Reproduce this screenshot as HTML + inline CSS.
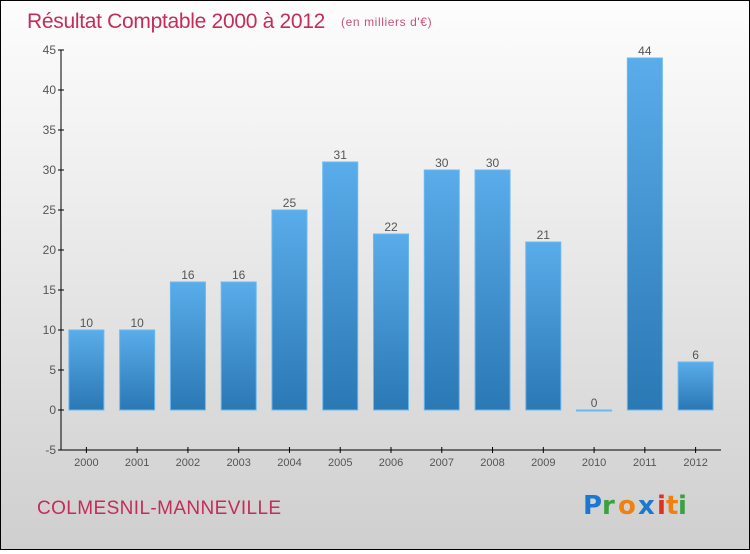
<!DOCTYPE html>
<html><head><meta charset="utf-8"><style>
body{margin:0;width:750px;height:550px;overflow:hidden}
#c{position:relative;width:748px;height:548px;border:1px solid #000;background:linear-gradient(#fdfdfd,#f0f0f0 30%,#d8d8d8 80%,#cfcfcf);font-family:"Liberation Sans",sans-serif}
</style></head><body>
<div id="c">
<svg width="748" height="548">
<defs><linearGradient id="bg" x1="0" y1="0" x2="0" y2="1"><stop offset="0" stop-color="#5aacea"/><stop offset="1" stop-color="#2a78b4"/></linearGradient></defs>
<text x="26" y="27" font-size="21" fill="#c42c5a" letter-spacing="-0.3">Résultat Comptable 2000 à 2012</text>
<text x="340" y="25" font-size="12" fill="#c8507a" letter-spacing="0.6">(en milliers d'€)</text>
<g id="plot"></g>
<text x="36" y="513" font-size="19" fill="#c42c5a" letter-spacing="0.4">COLMESNIL-MANNEVILLE</text>
<g font-size="26" font-weight="bold" font-family="'DejaVu Sans',sans-serif">
<text x="582" y="513" fill="#1a78d0">P</text><text x="601" y="513" fill="#3aa040">r</text><text x="617" y="513" fill="#f08010">o</text><text x="637" y="513" fill="#1a78d0">x</text><text x="656" y="513" fill="#e03020">i</text><text x="665" y="513" fill="#f08010">t</text><text x="677" y="513" fill="#3aa040">i</text>
</g>
</svg></div>
<script>
const categories=["2000","2001","2002","2003","2004","2005","2006","2007","2008","2009","2010","2011","2012"];
const values=[10,10,16,16,25,31,22,30,30,21,0,44,6];
const yTicks=[-5,0,5,10,15,20,25,30,35,40,45];
const NS="http://www.w3.org/2000/svg";
const g=document.getElementById('plot');
const x0=60,x1=720,band=(x1-x0)/categories.length;
const y=v=>409-v*8;
function mk(t,a,txt){const e=document.createElementNS(NS,t);for(const k in a)e.setAttribute(k,a[k]);if(txt!==undefined)e.textContent=txt;g.appendChild(e);return e;}
let e=mk('line',{x1:x0,y1:y(-5),x2:x0,y2:y(45),stroke:'#000'});


e=mk('line',{x1:x0,y1:y(-5),x2:x1,y2:y(-5),stroke:'#000'});


yTicks.forEach(v=>{
 mk('line',{x1:x0-3,x2:x0+3,y1:y(v),y2:y(v),stroke:'#000'});
 e=mk('text',{x:x0-5,y:y(v)+4,'font-size':12,fill:'#555','text-anchor':'end'},v);
 
 
});
categories.forEach((c,i)=>{
 const cx=x0+band*(i+0.5),v=values[i];
 mk('line',{x1:cx,x2:cx,y1:y(-5)-3,y2:y(-5)+3,stroke:'#000'});
 e=mk('text',{x:cx,y:y(-5)+16,'font-size':11,fill:'#555','text-anchor':'middle'},c);
 
 
 const top=Math.min(y(v),y(0)),h=Math.max(Math.abs(y(v)-y(0)),1);
 e=mk('rect',{x:cx-17.5,y:top,width:35,height:h,fill:'url(#bg)',stroke:'#6ab8f0','stroke-width':1});
 
 
 e=mk('text',{x:cx,y:top-3,'font-size':12,fill:'#555','text-anchor':'middle'},v);
 
 
});
</script>
</body></html>
